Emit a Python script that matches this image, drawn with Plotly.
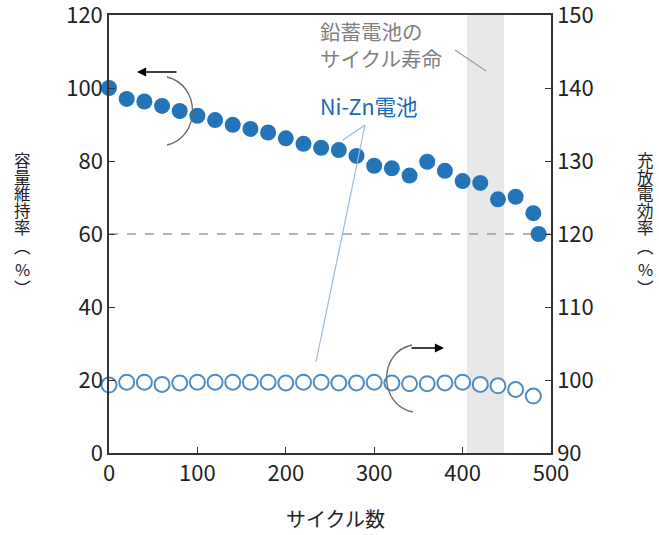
import plotly.graph_objects as go

# ---------------- data ----------------
cycles_cap = [0, 20, 40, 60, 80, 100, 120, 140, 160, 180, 200, 220, 240, 260,
              280, 300, 320, 340, 360, 380, 400, 420, 440, 460, 480, 486]
capacity = [100.0, 97.0, 96.3, 95.1, 93.7, 92.4, 91.2, 89.9, 88.8, 87.8, 86.2,
            84.7, 83.6, 83.0, 81.4, 78.7, 78.0, 76.0, 79.8, 77.3, 74.5, 74.0,
            69.5, 70.2, 65.7, 60.0]

cycles_eff = [0, 20, 40, 60, 80, 100, 120, 140, 160, 180, 200, 220, 240, 260,
              280, 300, 320, 340, 360, 380, 400, 420, 440, 460, 480]
efficiency = [99.3, 99.7, 99.7, 99.4, 99.6, 99.7, 99.7, 99.7, 99.7, 99.7, 99.6,
              99.7, 99.7, 99.6, 99.6, 99.7, 99.6, 99.5, 99.5, 99.6, 99.7, 99.4,
              99.2, 98.7, 97.8]

x_ticks = [0, 100, 200, 300, 400, 500]
y_ticks = [0, 20, 40, 60, 80, 100, 120]
y2_ticks = [90, 100, 110, 120, 130, 140, 150]
lead_band = [405, 447]      # lead-acid battery cycle life band
threshold = 60

left_title = ["容", "量", "維", "持", "率", "︵", "%", "︶"]
right_title = ["充", "放", "電", "効", "率", "︵", "%", "︶"]
title_y_px = [160, 176.5, 193, 210, 227, 246, 269, 287.5]

# ---------------- layout geometry ----------------
W, H = 659, 535
L, R, T, B = 109, 551, 15, 453


def px(x):
    return (x - L) / (R - L)


def py(y):
    return (B - y) / (B - T)


FONT = "Noto Sans CJK JP, Noto Sans, sans-serif"
AX = "#333333"

fig = go.Figure()

fig.add_trace(go.Scatter(
    x=cycles_eff, y=efficiency, yaxis="y2", mode="markers",
    marker=dict(size=15, color="white", line=dict(color="#4f8cc4", width=2)),
    showlegend=False, cliponaxis=False))

fig.add_trace(go.Scatter(
    x=cycles_cap, y=capacity, mode="markers",
    marker=dict(size=16, color="#2474b9", line=dict(width=0)),
    showlegend=False, cliponaxis=False))

shapes = [
    dict(type="rect", xref="x", yref="paper", x0=lead_band[0], x1=lead_band[1],
         y0=0, y1=1, fillcolor="#e8e8e8", line=dict(width=0), layer="below"),
    dict(type="line", xref="paper", yref="y", x0=0, x1=1, y0=threshold, y1=threshold,
         line=dict(color="#9a9a9a", width=1.5, dash="dash"), layer="below"),
    # leader lines
    dict(type="line", xref="paper", yref="paper", x0=px(455), y0=py(50), x1=px(486), y1=py(71),
         line=dict(color="#9a9a9a", width=1.2)),
    dict(type="line", xref="paper", yref="paper", x0=px(365), y0=py(125), x1=px(343), y1=py(140),
         line=dict(color="#9bbbd8", width=1.2)),
    dict(type="line", xref="paper", yref="paper", x0=px(365), y0=py(125), x1=px(316), y1=py(362),
         line=dict(color="#9bbbd8", width=1.2)),
    # curved arrows
    dict(type="path", xref="paper", yref="paper",
         path=f"M {px(167)},{py(77)} C {px(201)},{py(85)} {px(201)},{py(137)} {px(167)},{py(145)}",
         line=dict(color="#666666", width=1.3)),
    dict(type="path", xref="paper", yref="paper",
         path=f"M {px(412)},{py(345)} C {px(378)},{py(352)} {px(378)},{py(405)} {px(413)},{py(412)}",
         line=dict(color="#666666", width=1.3)),
]

annotations = [
    dict(x=px(137), y=py(72), xref="paper", yref="paper", text="", showarrow=True,
         ax=41, ay=0, arrowhead=2, arrowsize=1.3, arrowwidth=1.4, arrowcolor="black", standoff=0),
    dict(x=px(444), y=py(348), xref="paper", yref="paper", text="", showarrow=True,
         ax=-34, ay=0, arrowhead=2, arrowsize=1.3, arrowwidth=1.4, arrowcolor="black", standoff=0),
    dict(x=px(318), y=py(14), xref="paper", yref="paper", xanchor="left", yanchor="top",
         align="left", showarrow=False, text="鉛蓄電池の<br>サイクル寿命",
         font=dict(size=20.5, color="#808080", family=FONT)),
    dict(x=px(318), y=py(105), xref="paper", yref="paper", xanchor="left", yanchor="middle",
         showarrow=False, text="Ni-Zn電池",
         font=dict(size=21.5, color="#1a6ab3", family=FONT)),
    dict(x=px(335), y=py(518), xref="paper", yref="paper", xanchor="center", yanchor="middle",
         showarrow=False, text="サイクル数", font=dict(size=20, color="#222", family=FONT)),
]
for ch, yy in zip(left_title, title_y_px):
    annotations.append(dict(x=px(22), y=py(yy), xref="paper", yref="paper", xanchor="center",
                            yanchor="middle", showarrow=False, text=ch,
                            font=dict(size=16.5, color="#222", family=FONT)))
for ch, yy in zip(right_title, title_y_px):
    annotations.append(dict(x=px(645), y=py(yy), xref="paper", yref="paper", xanchor="center",
                            yanchor="middle", showarrow=False, text=ch,
                            font=dict(size=16.5, color="#222", family=FONT)))

axis_common = dict(showgrid=False, zeroline=False, showline=True, linecolor=AX, linewidth=1.5,
                   ticks="inside", ticklen=6, tickwidth=1.2, tickcolor=AX,
                   ticklabeloverflow="allow",
                   tickfont=dict(size=22, color="#222", family=FONT))

fig.update_layout(
    width=W, height=H,
    margin=dict(l=L, r=W - R, t=T, b=H - B, pad=0, autoexpand=False),
    plot_bgcolor="white", paper_bgcolor="white",
    font=dict(family=FONT),
    xaxis=dict(range=[0, 500], tickvals=x_ticks, mirror=True, **axis_common),
    yaxis=dict(range=[0, 120], tickvals=y_ticks, **axis_common),
    yaxis2=dict(range=[90, 150], tickvals=y2_ticks, overlaying="y", side="right", **axis_common),
    shapes=shapes, annotations=annotations,
)

fig.write_html("out.html", config={"displayModeBar": False},
               post_script="document.body.style.margin='0';document.body.style.overflow='hidden';")
